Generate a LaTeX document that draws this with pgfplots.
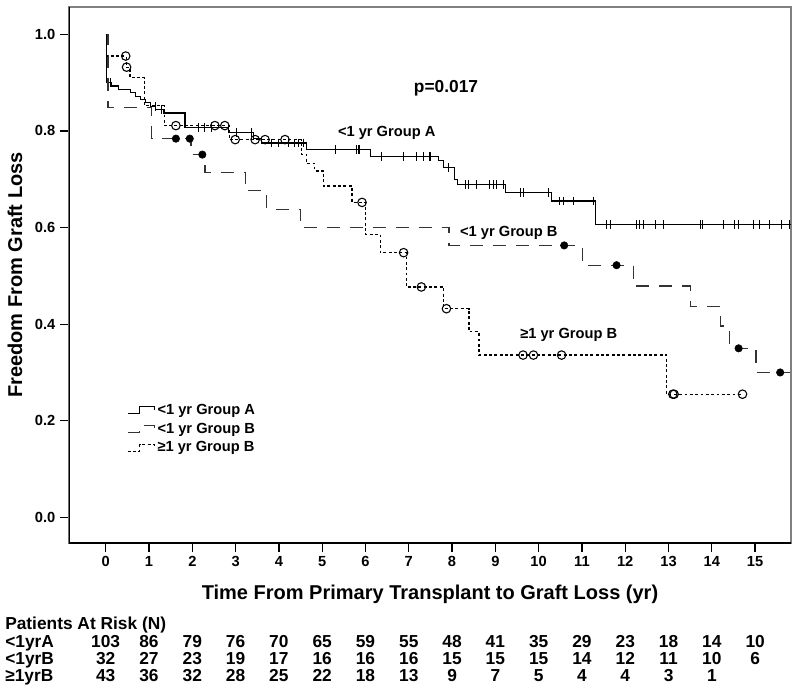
\documentclass[border=0pt]{standalone}
\usepackage{fontspec}
\setmainfont{Liberation Sans}
\usepackage{pgfplots}
\pgfplotsset{compat=1.18}
\newcommand{\rf}{\bfseries\fontsize{13}{14}\selectfont}
\newcommand{\af}{\bfseries\fontsize{11}{12}\selectfont}
\begin{document}
\begin{tikzpicture}
\begin{axis}[
  name=ax, at={(0,0)}, anchor=south west,
  scale only axis, width=541.5pt, height=402pt,
  xmin=-0.85, xmax=15.83, ymin=-0.053, ymax=1.0565,
  xtick={0,...,15}, ytick={0,0.2,0.4,0.6,0.8,1.0},
  xtick pos=left, ytick pos=left,
  tick align=outside, major tick length=6.75pt,
  tick style={black, line width=0.9pt},
  axis line style={black!50, line width=1pt},
  ticklabel style={font=\bfseries\fontsize{11}{12}\selectfont},
  /pgf/number format/assume math mode=true,
  yticklabel style={/pgf/number format/.cd, fixed, fixed zerofill, precision=1},
  xlabel={Time From Primary Transplant to Graft Loss (yr)},
  ylabel={Freedom From Graft Loss},
  label style={font=\bfseries\fontsize{15}{16}\selectfont},
  xlabel style={at={(axis description cs:0.5,-0.0951)}, anchor=center},
  ylabel style={at={(axis description cs:-0.0748,0.5)}, anchor=center},
  legend style={at={(axis description cs:0.08,0.265)}, anchor=north west, draw=none, fill=none,
    font=\af, row sep=1pt, inner sep=0pt},
  legend cell align=left,
  legend image code/.code={\draw[#1] (0pt,-2.5pt) -- (9pt,-2.5pt) -- (9pt,2.5pt) -- (20pt,2.5pt) -- (20pt,0pt);},
]
% <1 yr Group A (solid)
\addplot[const plot mark left, black, line width=0.9pt] coordinates {
(0,1.0) (0.02,0.900) (0.14,0.893) (0.30,0.886) (0.57,0.879) (0.68,0.872) (0.80,0.865)
(0.92,0.858) (1.03,0.851) (1.15,0.844) (1.33,0.837) (1.83,0.807) (2.83,0.796) (3.41,0.785)
(3.60,0.775) (4.64,0.762) (6.11,0.747) (7.69,0.738) (7.80,0.724) (8.05,0.700) (8.12,0.689)
(9.24,0.672) (10.30,0.655) (11.32,0.607) (15.83,0.607)};
\addlegendentry{<1 yr Group A}
% <1 yr Group B (long dashed)
\addplot[const plot mark left, black!80, line width=0.9pt, dash pattern=on 9.75pt off 7.5pt] coordinates {
(0,1.0) (0.05,0.848) (1.06,0.784) (1.97,0.751) (2.29,0.714) (3.22,0.676) (3.72,0.638)
(4.49,0.600) (7.93,0.563) (11.01,0.522) (12.19,0.479) (13.50,0.436) (14.21,0.396)
(14.40,0.350) (15.02,0.300) (15.80,0.300)};
\addlegendentry{<1 yr Group B}
% >=1 yr Group B (dotted)
\addplot[const plot mark left, black, line width=0.9pt, dash pattern=on 2.2pt off 1.8pt] coordinates {
(0,1.0) (0.02,0.955) (0.47,0.932) (0.56,0.910) (0.90,0.852) (1.35,0.811) (2.85,0.782)
(4.52,0.751) (4.64,0.733) (4.83,0.717) (5.03,0.686) (5.69,0.652) (6.00,0.586) (6.34,0.548)
(6.94,0.477) (7.81,0.432) (8.39,0.384) (8.62,0.336) (12.96,0.255) (14.71,0.255)};
\addlegendentry{≥1 yr Group B}
% censor marks A
\addplot[only marks, mark=|, mark size=3.3pt, black, line width=0.8pt, forget plot] coordinates {
(0.10,0.900) (1.14,0.851) (1.29,0.844) (2.14,0.807) (2.29,0.807) (2.45,0.807) (3.03,0.796)
(3.37,0.796) (3.83,0.775) (3.99,0.775) (4.22,0.775) (4.37,0.775) (4.45,0.775) (4.56,0.775)
(5.30,0.762) (5.79,0.762) (5.83,0.762) (5.87,0.762) (6.37,0.747) (6.87,0.747) (7.18,0.747)
(7.33,0.747) (7.49,0.747) (7.91,0.724) (8.30,0.689) (8.37,0.689) (8.57,0.689) (8.87,0.689)
(8.95,0.689) (9.03,0.689) (9.18,0.689) (9.57,0.672) (9.64,0.672) (10.22,0.672) (10.49,0.655)
(10.57,0.655) (10.80,0.655) (11.26,0.655) (11.57,0.607) (11.65,0.607) (12.26,0.607)
(12.34,0.607) (12.42,0.607) (12.69,0.607) (12.88,0.607) (13.73,0.607) (13.79,0.607)
(14.26,0.607) (14.53,0.607) (14.61,0.607) (14.96,0.607) (15.11,0.607) (15.34,0.607)
(15.61,0.607) (15.80,0.607)};
% censor marks B (filled dots)
\addplot[only marks, mark=*, mark size=2.8pt, black, forget plot] coordinates {
(1.62,0.784) (1.94,0.784) (2.23,0.751) (10.59,0.563) (11.80,0.522) (14.62,0.350) (15.58,0.300)};
% censor marks >=1 B (open circles)
\addplot[only marks, mark=o, mark size=3.2pt, black, line width=0.8pt, mark options={fill=white}, forget plot] coordinates {
(0.46,0.955) (0.48,0.932) (1.62,0.811) (2.52,0.811) (2.75,0.811) (2.99,0.782) (3.45,0.782)
(3.68,0.782) (4.14,0.782) (5.92,0.652) (6.88,0.548) (7.29,0.477) (7.87,0.432) (9.64,0.336)
(9.88,0.336) (10.53,0.336) (13.10,0.255) (13.13,0.255) (14.71,0.255)};
\node[font=\bfseries\fontsize{13}{14}\selectfont] at (axis cs:7.86,0.889) {p=0.017};
\node[font=\af] at (axis cs:6.49,0.795) {<1 yr Group A};
\node[font=\af, anchor=west, inner sep=0pt] at (axis cs:8.18,0.589) {<1 yr Group B};
\node[font=\af, anchor=west, inner sep=0pt] at (axis cs:9.57,0.378) {≥1 yr Group B};
\draw[black, line width=1pt] (rel axis cs:0,1) -- (rel axis cs:0,0) -- (rel axis cs:1,0);
\end{axis}
\node[anchor=base west, font=\rf, inner sep=0pt] at (-48pt,-64.6pt) {Patients At Risk (N)};
\node[anchor=base west, font=\rf, inner sep=0pt] at (-48pt,-78.1pt) {<1yrA};
\node[anchor=base west, font=\rf, inner sep=0pt] at (-48pt,-90.85pt) {<1yrB};
\node[anchor=base west, font=\rf, inner sep=0pt] at (-48pt,-103.6pt) {≥1yrB};
\foreach \v [count=\i from 0] in {103,86,79,76,70,65,59,55,48,41,35,29,23,18,14,10}
  \node[font=\rf, inner sep=0pt, anchor=base] at ({27.5pt+32.475pt*\i},-78.1pt) {\v};
\foreach \v [count=\i from 0] in {32,27,23,19,17,16,16,16,15,15,15,14,12,11,10,6}
  \node[font=\rf, inner sep=0pt, anchor=base] at ({27.5pt+32.475pt*\i},-90.85pt) {\v};
\foreach \v [count=\i from 0] in {43,36,32,28,25,22,18,13,9,7,5,4,4,3,1}
  \node[font=\rf, inner sep=0pt, anchor=base] at ({27.5pt+32.475pt*\i},-103.6pt) {\v};
\pgfresetboundingbox
\path (-51.75pt,-113.25pt) rectangle (548.25pt,407.25pt);
\end{tikzpicture}
\end{document}
